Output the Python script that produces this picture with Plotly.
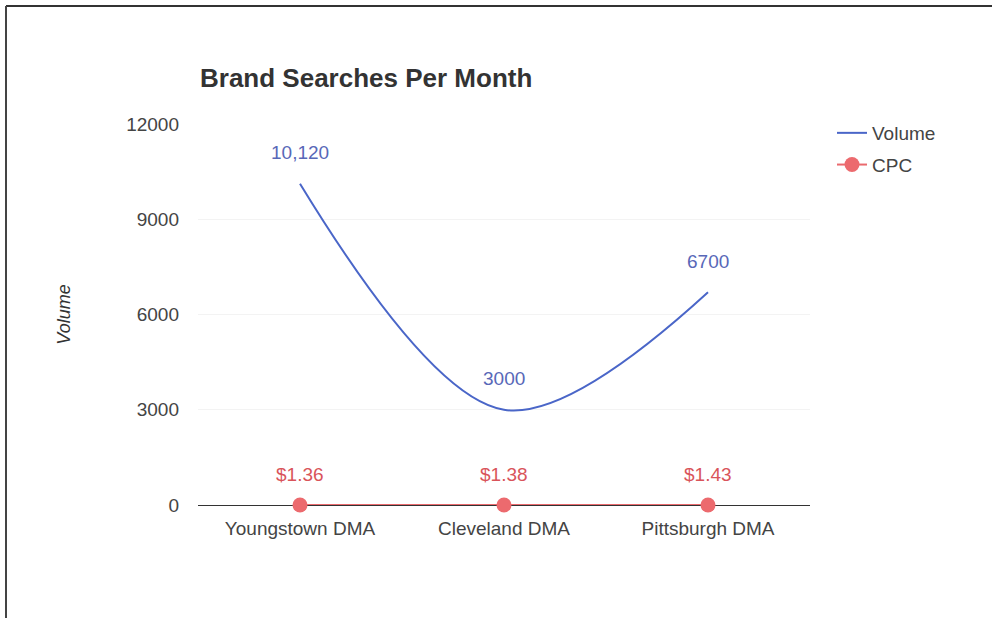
import plotly.graph_objects as go

categories = ["Youngstown DMA", "Cleveland DMA", "Pittsburgh DMA"]
volume = [10120, 3000, 6700]
cpc = [1.36, 1.38, 1.43]
volume_labels = ["10,120", "3000", "6700"]
cpc_labels = ["$1.36", "$1.38", "$1.43"]
y_ticks = [0, 3000, 6000, 9000, 12000]

FONT = "Liberation Sans, Arial, sans-serif"
BLUE = "#4a66c8"
BLUE_TXT = "#5868b8"
RED = "#ea6a6e"
RED_MK = "#ec6a6e"
RED_TXT = "#d9545a"

fig = go.Figure()
fig.add_trace(go.Scatter(
    x=categories, y=volume, name="Volume", mode="lines", legendgroup="v",
    line=dict(color=BLUE, width=2, shape="spline", smoothing=1),
    cliponaxis=False,
))
fig.add_trace(go.Scatter(
    x=categories, y=cpc, name="CPC", mode="lines+markers", legendgroup="c",
    line=dict(color=RED, width=2),
    marker=dict(color=RED_MK, size=15),
    cliponaxis=False,
))

for c, v, t in zip(categories, volume, volume_labels):
    fig.add_annotation(x=c, y=v, text=t, showarrow=False, yshift=31,
                       font=dict(family=FONT, size=19, color=BLUE_TXT))
for c, v, t in zip(categories, cpc, cpc_labels):
    fig.add_annotation(x=c, y=v, text=t, showarrow=False, yshift=30,
                       font=dict(family=FONT, size=19, color=RED_TXT))

# page frame
L, R, T, B = 198, 182, 124, 115
W, H = 992, 620
pw, ph = W - L - R, H - T - B
def px(xp): return (xp - L) / pw
def py(yp): return (H - B - yp) / ph
fig.add_shape(type="line", xref="paper", yref="paper", x0=px(6), x1=px(992), y0=py(6), y1=py(6),
              line=dict(color="#333", width=2))
fig.add_shape(type="line", xref="paper", yref="paper", x0=px(6), x1=px(6), y0=py(6), y1=py(618),
              line=dict(color="#444", width=2))

fig.update_layout(
    width=W, height=H,
    margin=dict(l=L, r=R, t=T, b=B),
    paper_bgcolor="white", plot_bgcolor="white",
    font=dict(family=FONT, size=19, color="#444"),
    title=dict(text="<b>Brand Searches Per Month</b>", x=px(200), xanchor="left", xref="paper",
               y=1 - 78 / H, yanchor="middle", font=dict(family=FONT, size=26, color="#333")),
    xaxis=dict(showgrid=False, showline=True, linecolor="#333", linewidth=1,
               range=[-0.5, 2.5], ticks="", ticklabelstandoff=6, layer="below traces",
               tickfont=dict(size=19, color="#444")),
    yaxis=dict(range=[0, 12000], tickvals=y_ticks, ticktext=[str(v) for v in y_ticks],
               showgrid=True, gridcolor="#f3f3f3", zeroline=False, showline=False,
               ticklabelstandoff=18, tickfont=dict(size=19, color="#444"),
               title=dict(text="<i>Volume</i>", standoff=50, font=dict(size=18, color="#333"))),
    legend=dict(x=px(832), y=py(114), xanchor="left", yanchor="top", tracegroupgap=4,
                font=dict(size=19, color="#444"), bgcolor="rgba(0,0,0,0)"),
    showlegend=True,
)

fig.write_html("out.html")
